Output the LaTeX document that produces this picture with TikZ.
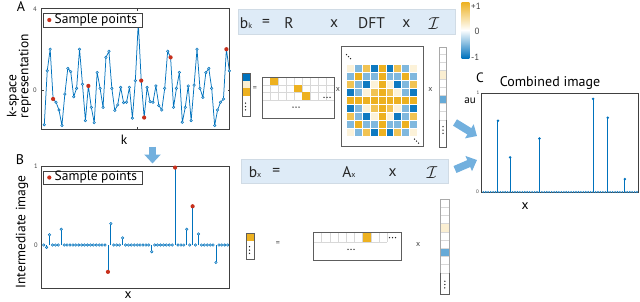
\documentclass[tikz,border=0pt]{standalone}
\usepackage{fontspec}
\setmainfont{PT Sans}
\usetikzlibrary{arrows.meta}
\definecolor{mblue}{HTML}{0072BD}
\definecolor{morange}{HTML}{EDB120}
\definecolor{mred}{HTML}{C8301C}
\definecolor{abl}{HTML}{72B0DE}
\definecolor{bannerc}{HTML}{DEEBF7}
\definecolor{frm}{HTML}{404040}
\definecolor{gridc}{HTML}{D8D8D8}
\colorlet{dftc0}{morange}
\colorlet{dftc1}{morange!77!white}
\colorlet{dftc2}{morange!17!white}
\colorlet{dftc3}{mblue!50!white}
\colorlet{dftc4}{mblue!94!white}
\colorlet{dftc5}{mblue!94!white}
\colorlet{dftc6}{mblue!50!white}
\colorlet{dftc7}{morange!17!white}
\colorlet{dftc8}{morange!77!white}
\newcommand{\myfs}[1]{\fontsize{#1}{#1}\selectfont}
\newcommand{\mydotsh}[2]{\foreach \dd in {-3,0,3} \fill[black!85] ({#1+\dd},#2) circle (0.75);}
\newcommand{\mydotsv}[2]{\foreach \dd in {-3.3,0,3.3} \fill[black!85] (#1,{#2+\dd}) circle (0.75);}
\newcommand{\mydotsd}[2]{\foreach \dd in {0,2,4} \fill[black!85] ({#1+\dd},{#2+\dd}) circle (0.75);}
\def\Alist{-1.7,0.94,2.0,-0.44,-0.6,-0.98,-1.74,-0.2,1.06,0.9,-0.33,0.08,2.0,0.28,-1.5,0.2,-0.85,-1.6,0.86,0.08,-0.85,1.6,1.9,0.08,-1.0,-0.73,0.13,-0.62,-0.6,0.13,-1.38,0.46,3.3,0.46,-1.35,0.13,-0.57,-0.6,0.2,-0.76,-0.98,0.08,1.9,1.6,-0.85,0.08,0.86,-1.58,-0.85,0.2,-1.5,0.24,2.0,0.08,-0.36,0.85,1.06,0.08,-1.74,-0.98,-0.6,-0.44,2.0,0.94}
\def\Blist{0,-0.03,0.13,0,0,0,0.2,0,0,0,0,0,0,0,0,0,0,0,0,0,0,0,-0.34,0.27,0,0,0,0.09,0,0,0,0,0,0,0,0,0,-0.085,0,0,0,0,0,0,0,0.98,0,0,0,0.2,0,0.49,0,0.14,0,0,0,0,0,-0.22,0,0,0,0}
\begin{document}
\begin{tikzpicture}[x=1pt,y=-1pt,
  plotframe/.style={draw=frm, line width=0.9pt},
  mk/.style={draw=mblue, fill=mblue!35, line width=0.45pt},
  lbl/.style={inner sep=0pt, font=\myfs{13.5}},
  ticklbl/.style={inner sep=0pt, font=\myfs{6.5}, text=frm},
  eqbar/.style={fill=bannerc, draw=bannerc!85!gray, line width=0.3pt},
  eqtxt/.style={inner sep=0pt, font=\myfs{15.5}, text=black!85},
  opsym/.style={inner sep=0pt, font=\myfs{8}, text=frm},
  mbox/.style={draw=frm!85, line width=1pt},
  lbox/.style={draw=frm!45, line width=0.8pt},
  gridl/.style={draw=gridc, line width=0.4pt},
  bigarrow/.style={abl, line width=7.5pt, -{Triangle[width=16pt,length=9pt]}},
  legbox/.style={draw=frm, fill=white, line width=0.7pt},
]
\useasboundingbox (0,0) rectangle (640,301);

% ================= Panel A =================
\draw[plotframe] (41.7,8.3) rectangle (229.5,129);
\draw[frm, line width=0.5pt] (137.6,8.3) -- (137.6,10.5) (137.6,129) -- (137.6,126.8) (41.7,90) -- (43.7,90) (229.5,90) -- (227.5,90);
\draw[mblue, line width=0.75pt, line join=round] (44.3,{90+1.7*20.4}) \foreach \v [count=\i from 0] in \Alist { -- ({44.3+\i*2.937},{90-(\v)*20.4}) };
\foreach \v [count=\i from 0] in \Alist \draw[mk] ({44.3+\i*2.937},{90-(\v)*20.4}) circle (1.3);
\foreach \i/\v in {3/-0.44,15/0.2,33/0.46,34/-1.35,43/1.6,62/2.0} \fill[mred] ({44.3+\i*2.937},{90-(\v)*20.4}) circle (2.1);
\node[ticklbl] (a4) at (35,9) {4};
\node[ticklbl] (a0) at (35,90) {0};
\draw[legbox] (43,13) rectangle (142,27);
\fill[mred] (49.3,20) circle (2.1);
\node[lbl, anchor=west] (alg) at (54.5,20) {Sample points};
\node[lbl, font=\myfs{14}] (lA) at (21,6.5) {A};
\node[lbl, rotate=90] (ayl1) at (13,96) {k-space};
\node[lbl, rotate=90] (ayl2) at (25,76) {representation};
\node[lbl] (axl) at (124,140) {k};

% down arrow
\coordinate (dA) at (152.5,146.5);
\coordinate (dB) at (152.5,163.5);
\draw[bigarrow] (dA) -- (dB);

% ================= Panel B =================
\draw[plotframe] (41,166) rectangle (229,288);
\foreach \v [count=\i from 0] in \Blist {
  \draw[mblue, line width=0.75pt] ({43.7+\i*2.92},245) -- ({43.7+\i*2.92},{245-(\v)*79});
  \draw[mk] ({43.7+\i*2.92},{245-(\v)*79}) circle (1.3);
}
\foreach \i/\v in {22/-0.34,45/0.98,51/0.49} \fill[mred] ({43.7+\i*2.92},{245-(\v)*79}) circle (2.1);
\node[ticklbl] (b1) at (36,166) {1};
\node[ticklbl] (b0) at (36,245) {0};
\draw[legbox] (43,171) rectangle (142,184);
\fill[mred] (49.3,177.5) circle (2.1);
\node[lbl, anchor=west] (blg) at (54.5,177.5) {Sample points};
\node[lbl, font=\myfs{14}] (lB) at (20,160) {B};
\node[lbl, rotate=90] (byl) at (22,232) {Intermediate image};
\node[lbl] (bxl) at (128,295) {x};

% ================= Top equation =================
\draw[eqbar] (238,9) rectangle (455,34);
\node[eqtxt] (bk) at (246,23.3) {b{\myfs{8}k}};
\node[eqtxt] (eq1) at (266,23.3) {=};
\node[eqtxt] (R) at (289,23.3) {R};
\node[eqtxt] (x1) at (334,23.3) {x};
\node[eqtxt] (DFT) at (371.5,23.3) {DFT};
\node[eqtxt] (x2) at (406.3,23.3) {x};
\node[eqtxt, font=\myfs{17}] (I1) at (434,23.8) {$\mathcal{I}$};

% b_k vector
\fill[mblue] (242,73.3) rectangle (250.3,81);
\fill[morange!20] (242,81) rectangle (250.3,87.7);
\fill[morange] (242,87.7) rectangle (250.3,95.7);
\draw[mbox] (242,73.3) rectangle (250.3,116.7);
\mydotsv{245.5}{106.5}
\node[opsym] (eqs1) at (255,88.5) {=};

% R matrix
\foreach \c in {1,...,8} \draw[gridl] ({262+\c*8},77) -- ({262+\c*8},100.1);
\foreach \r in {84.7,92.4,100.1} \draw[gridl] (262,\r) -- (334,\r);
\fill[morange] (270,77) rectangle (278,84.7);
\fill[morange] (294,84.7) rectangle (302,92.4);
\fill[morange] (302,92.4) rectangle (310,100.1);
\draw[mbox] (262,77) rectangle (334,118);
\mydotsh{327}{97.3}
\mydotsh{296}{107}
\node[opsym] (xs1) at (338,89.3) {x};

% DFT matrix (real part, cos(2 pi j k / 9), j,k = -4..4), class = jk mod 9
\foreach \rowvals [count=\rr from 0] in {
  {7,3,8,4,0,4,8,3,7},
  {3,0,6,3,0,3,6,0,3},
  {8,6,4,2,0,2,4,6,8},
  {4,3,2,1,0,1,2,3,4},
  {0,0,0,0,0,0,0,0,0},
  {4,3,2,1,0,1,2,3,4},
  {8,6,4,2,0,2,4,6,8},
  {3,0,6,3,0,3,6,0,3},
  {7,3,8,4,0,4,8,3,7}} {
  \foreach \mm [count=\cc from 0] in \rowvals {
    \fill[fill=dftc\mm, draw=white, line width=0.25pt] ({346+\cc*7.93},{64.3+\rr*7.93}) rectangle ++(7.93,7.93);
  }
}
\draw[mbox] (341.7,46.7) rectangle (423.3,146);
\mydotsd{346.5}{54.5}
\mydotsd{414.5}{139}
\node[opsym] (xs2) at (430.5,89.3) {x};

% I vector (top)
\fill[morange!20] (439.3,70.6) rectangle (446.7,78.8);
\fill[mblue!60] (439.3,95.2) rectangle (446.7,103.4);
\foreach \r in {54.2,62.4,70.6,78.8,87,95.2,103.4,111.6,119.8} \draw[gridl] (439.3,\r) -- (446.7,\r);
\draw[lbox] (439.3,47.7) rectangle (446.7,147.7);
\draw[mbox] (439.3,119.8) -- (439.3,147.7) -- (446.7,147.7) -- (446.7,119.8);
\mydotsv{443}{130}

% colour bar
\shade[top color=morange, bottom color=white] (461.7,2) rectangle (469.3,30);
\shade[top color=white, bottom color=mblue] (461.7,30) rectangle (469.3,58);
\node[inner sep=0pt, font=\myfs{9}, text=frm, anchor=west] (cbp) at (471,6) {+1};
\node[inner sep=0pt, font=\myfs{9}, text=frm, anchor=west] (cb0) at (474.5,31) {0};
\node[inner sep=0pt, font=\myfs{9}, text=frm, anchor=west] (cbm) at (471,57.5) {-1};

% ================= Bottom equation =================
\draw[eqbar] (241,159) rectangle (448,183);
\node[eqtxt] (bx) at (255,172.3) {b{\myfs{8}x}};
\node[eqtxt] (eq2) at (276.3,172.3) {=};
\node[eqtxt] (Ax) at (349,172.3) {A{\myfs{8}x}};
\node[eqtxt] (x3) at (392.5,172.3) {x};
\node[eqtxt, font=\myfs{17}] (I2) at (432,172.8) {$\mathcal{I}$};

% b_x vector
\fill[morange] (246,233) rectangle (254,241);
\draw[mbox] (246,233) rectangle (254,259);
\mydotsv{249.5}{250}
\node[opsym] (eqs2) at (278,244) {=};

% A_x matrix
\foreach \c in {1,...,9} \draw[gridl] ({313.3+\c*8.2},232.7) -- ({313.3+\c*8.2},241.7);
\draw[gridl] (313.3,241.7) -- (387.1,241.7);
\fill[morange] (362.5,232.7) rectangle (370.7,241.7);
\draw[mbox] (313.3,232.7) rectangle (401.7,260);
\mydotsh{392.5}{237.7}
\mydotsh{351}{249.3}
\node[opsym] (xs3) at (418.3,244) {x};

% I vector (bottom)
\fill[morange!20] (440.7,223.6) rectangle (449,231.8);
\fill[mblue!60] (440.7,248.2) rectangle (449,256.4);
\foreach \r in {207.2,215.4,223.6,231.8,240,248.2,256.4,264.6,272.8} \draw[gridl] (440.7,\r) -- (449,\r);
\draw[lbox] (440.7,199) rectangle (449,294);
\draw[mbox] (440.7,272.8) -- (440.7,294) -- (449,294) -- (449,272.8);
\mydotsv{444.8}{284.5}

% arrows to C
\coordinate (a1s) at (455,122.5);
\coordinate (a1e) at (477,136);
\coordinate (a2s) at (455,169.5);
\coordinate (a2e) at (477,160);
\draw[bigarrow] (a1s) -- (a1e);
\draw[bigarrow] (a2s) -- (a2e);

% ================= Panel C =================
\draw[plotframe] (481,93) rectangle (638,192);
\foreach \i in {0,...,63} \fill[mblue!85] ({483.3+\i*2.44},192) circle (1.05);
\foreach \i/\v in {6/0.72,11/0.35,23/0.54,45/0.94,51/0.75,58/0.13} {
  \draw[mblue, line width=0.9pt] ({483.3+\i*2.44},192) -- ({483.3+\i*2.44},{192-\v*99});
  \fill[mblue] ({483.3+\i*2.44},{192-\v*99}) circle (1.4);
}
\node[lbl, font=\myfs{13.5}] (lC) at (480,78) {C};
\node[lbl, font=\myfs{14}] (ctitle) at (550,83) {Combined image};
\node[inner sep=0pt, font=\myfs{11}] (au) at (470,100.5) {au};
\node[ticklbl, font=\myfs{5}] (c1) at (478,92.5) {1};
\node[ticklbl, font=\myfs{5}] (c0) at (477.5,192) {0};
\node[lbl] (cxl) at (525,206) {x};
\end{tikzpicture}
\end{document}
